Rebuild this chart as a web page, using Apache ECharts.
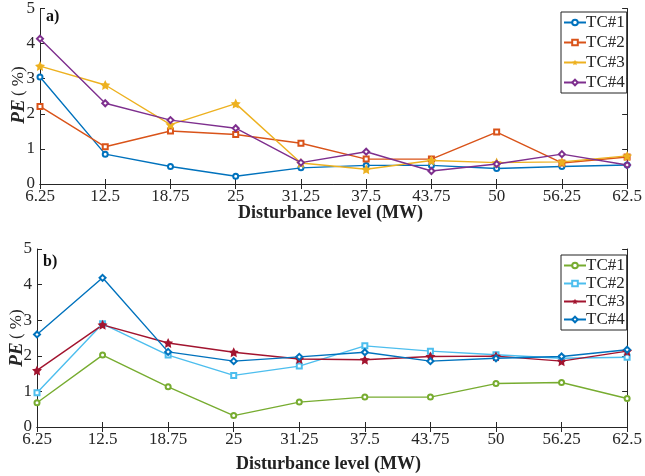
<!DOCTYPE html>
<html><head><meta charset="utf-8">
<script src="https://cdn.jsdelivr.net/npm/echarts@6/dist/echarts.min.js"></script>
<style>html,body{margin:0;padding:0;background:#fff}#c{width:645px;height:476px}</style>
</head><body><div id="c"></div>
<script>
var categories = ['6.25','12.5','18.75','25','31.25','37.5','43.75','50','56.25','62.5'];
var yTicks = [0,1,2,3,4,5];
// Panel a)
var a_tc1 = [3.05,0.85,0.50,0.22,0.46,0.53,0.53,0.44,0.50,0.54];
var a_tc2 = [2.21,1.06,1.51,1.41,1.16,0.71,0.71,1.48,0.60,0.77];
var a_tc3 = [3.36,2.82,1.69,2.29,0.60,0.42,0.67,0.61,0.63,0.80];
var a_tc4 = [4.14,2.30,1.82,1.59,0.61,0.92,0.37,0.57,0.85,0.54];
// Panel b)
var b_tc1 = [0.68,2.02,1.13,0.32,0.70,0.84,0.84,1.22,1.25,0.80];
var b_tc2 = [0.96,2.90,2.02,1.45,1.71,2.28,2.13,2.03,1.93,1.96];
var b_tc3 = [1.59,2.87,2.36,2.10,1.91,1.89,1.98,1.99,1.85,2.13];
var b_tc4 = [2.60,4.19,2.11,1.85,1.97,2.10,1.85,1.93,1.98,2.17];
var seriesNames = ['TC#1','TC#2','TC#3','TC#4'];

var FONT = 'Liberation Serif';
var AX = '#262626';
var STAR = 'path://M0,-10 L2.94,-4.05 L9.51,-3.09 L4.76,1.55 L5.88,8.09 L0,5 L-5.88,8.09 L-4.76,1.55 L-9.51,-3.09 L-2.94,-4.05 Z';
var symA = ['emptyCircle','emptyRect',STAR,'emptyDiamond'];
var sizeA = [5,5,10,6];
var colA = ['#0072BD','#D95319','#EDB120','#7E2F8E'];
var colB = ['#77AC30','#4DBEEE','#A2142F','#0072BD'];

var chart = echarts.init(document.getElementById('c'), null, {renderer:'canvas'});

function xAxes(gi, pos, show){
  return {
    type:'category', gridIndex:gi, data:categories, boundaryGap:false, position:pos,
    axisLine:{lineStyle:{color:AX,width:1}},
    axisTick:{inside:true,length:5,lineStyle:{color:AX}},
    axisLabel:{show:show,color:AX,fontFamily:FONT,fontSize:17,margin:4,interval:0},
    splitLine:{show:false}
  };
}
function yAxes(gi, pos, show){
  return {
    type:'value', gridIndex:gi, min:0, max:5, interval:1, position:pos,
    axisLine:{show:true,lineStyle:{color:AX,width:1}},
    axisTick:{show:true,inside:true,length:5,lineStyle:{color:AX}},
    axisLabel:{show:show,color:AX,fontFamily:FONT,fontSize:17,margin:5,
      formatter:function(v){return yTicks.indexOf(v)>=0?String(v):'';}},
    splitLine:{show:false}
  };
}
var aData=[a_tc1,a_tc2,a_tc3,a_tc4], bData=[b_tc1,b_tc2,b_tc3,b_tc4];
var series=[];
for(var i=0;i<4;i++){
  series.push({type:'line',name:seriesNames[i],xAxisIndex:0,yAxisIndex:0,data:aData[i],
    symbol:symA[i],symbolSize:sizeA[i],color:colA[i],lineStyle:{width:1.4},
    itemStyle:{borderWidth:1.2},animation:false});
  series.push({type:'line',name:'b:'+seriesNames[i],xAxisIndex:2,yAxisIndex:2,data:bData[i],
    symbol:symA[i],symbolSize:sizeA[i],color:colB[i],lineStyle:{width:1.4},
    itemStyle:{borderWidth:1.2},animation:false});
}
function legend(top,names,gap){
  return {orient:'vertical',left:561,top:top,data:names,
    backgroundColor:'#fff',borderColor:'#222',borderWidth:1,padding:[2,2,2,2],
    itemWidth:22,itemHeight:7,itemGap:gap,
    textStyle:{fontFamily:FONT,fontSize:17,color:AX,padding:[0,0,0,-5]},
    formatter:function(n){return n.replace('b:','');},selectedMode:false};
}
chart.setOption({
  animation:false,
  grid:[{left:40,top:5,right:12,height:179},{left:37,top:249,right:15,height:178}],
  xAxis:[xAxes(0,'bottom',true),xAxes(0,'top',false),xAxes(1,'bottom',true),xAxes(1,'top',false)],
  yAxis:[yAxes(0,'left',true),yAxes(0,'right',false),yAxes(1,'left',true),yAxes(1,'right',false)],
  legend:[legend(12,seriesNames,3),legend(255,seriesNames.map(function(n){return 'b:'+n;}),1)],
  series:series,
  graphic:[
    {type:'text',left:46,top:9,style:{text:'a)',font:'bold 16px '+FONT,fill:'#111'}},
    {type:'text',left:43,top:254,style:{text:'b)',font:'bold 16px '+FONT,fill:'#111'}},
    {type:'text',left:238,top:204,style:{text:'Disturbance level (MW)',font:'bold 18px '+FONT,fill:'#222'}},
    {type:'text',left:236,top:455,style:{text:'Disturbance level (MW)',font:'bold 18px '+FONT,fill:'#222'}},
    {type:'text',x:19,y:95,rotation:Math.PI/2,style:{text:'{b|PE} {r|( %)}',align:'center',verticalAlign:'middle',
      rich:{b:{fontFamily:FONT,fontSize:19,fontWeight:'bold',fontStyle:'italic',fill:AX},r:{fontFamily:FONT,fontSize:17,fill:AX}}}},
    {type:'text',x:17,y:338,rotation:Math.PI/2,style:{text:'{b|PE} {r|( %)}',align:'center',verticalAlign:'middle',
      rich:{b:{fontFamily:FONT,fontSize:19,fontWeight:'bold',fontStyle:'italic',fill:AX},r:{fontFamily:FONT,fontSize:17,fill:AX}}}}
  ]
});
</script></body></html>
